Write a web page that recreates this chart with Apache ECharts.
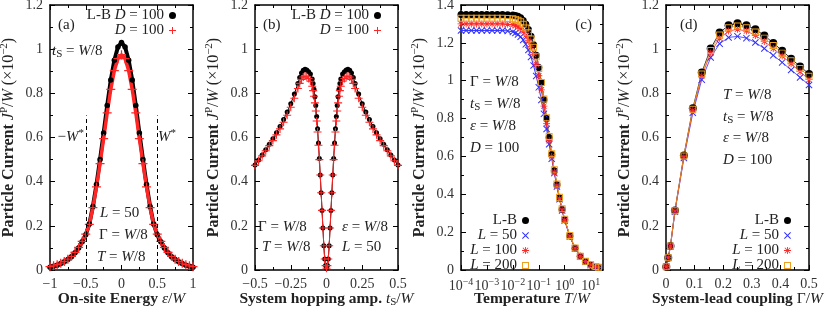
<!DOCTYPE html>
<html><head><meta charset="utf-8">
<script src="https://cdn.jsdelivr.net/npm/echarts@6/dist/echarts.min.js"></script>
<style>html,body{margin:0;padding:0;background:#fff}#c{width:830px;height:312px}</style>
</head><body><div id="c"></div>
<script>
// ---------------- DATA ----------------
// (a) on-site energy scan
const epsA = [-1,-0.95,-0.9,-0.85,-0.8,-0.75,-0.7,-0.65,-0.6,-0.55,-0.5,-0.45,-0.4,-0.35,-0.3,-0.25,-0.2,-0.15,-0.1,-0.05,0,0.05,0.1,0.15,0.2,0.25,0.3,0.35,0.4,0.45,0.5,0.55,0.6,0.65,0.7,0.75,0.8,0.85,0.9,0.95,1];
const jA_LB = [0.013,0.017,0.022,0.029,0.037,0.047,0.060,0.078,0.100,0.128,0.160,0.208,0.288,0.387,0.500,0.620,0.745,0.860,0.950,1.010,1.030,1.010,0.950,0.860,0.745,0.620,0.500,0.387,0.288,0.208,0.160,0.128,0.100,0.078,0.060,0.047,0.037,0.029,0.022,0.017,0.013];
const jA_D = [0.015,0.019,0.024,0.031,0.039,0.049,0.062,0.080,0.102,0.130,0.162,0.207,0.282,0.376,0.482,0.595,0.712,0.818,0.903,0.957,0.975,0.957,0.903,0.818,0.712,0.595,0.482,0.376,0.282,0.207,0.162,0.130,0.102,0.080,0.062,0.049,0.039,0.031,0.024,0.019,0.015];
const wStarX = [-0.5, 0.5];
const wStarTop = 0.7;
// (b) system hopping scan
const tB = [-0.5,-0.475,-0.45,-0.425,-0.4,-0.375,-0.35,-0.325,-0.3,-0.275,-0.25,-0.225,-0.2,-0.1875,-0.175,-0.1625,-0.15,-0.1375,-0.125,-0.1125,-0.1,-0.09375,-0.0875,-0.08125,-0.075,-0.06875,-0.0625,-0.05625,-0.05,-0.04375,-0.0375,-0.03125,-0.025,-0.01875,-0.0125,-0.00625,0,0.00625,0.0125,0.01875,0.025,0.03125,0.0375,0.04375,0.05,0.05625,0.0625,0.06875,0.075,0.08125,0.0875,0.09375,0.1,0.1125,0.125,0.1375,0.15,0.1625,0.175,0.1875,0.2,0.225,0.25,0.275,0.3,0.325,0.35,0.375,0.4,0.425,0.45,0.475,0.5];
const jB_LB = [0.475,0.498,0.521,0.545,0.569,0.594,0.621,0.65,0.682,0.715,0.753,0.797,0.845,0.872,0.892,0.904,0.909,0.906,0.898,0.888,0.865,0.845,0.818,0.785,0.745,0.695,0.64,0.575,0.505,0.43,0.35,0.27,0.19,0.11,0.05,0.02,
  0.008,0.02,0.05,0.11,0.19,0.27,0.35,0.43,0.505,0.575,0.64,0.695,0.745,0.785,0.818,0.845,0.865,0.888,0.898,0.906,0.909,0.904,0.892,0.872,0.845,0.797,0.753,0.715,0.682,0.65,0.621,0.594,0.569,0.545,0.521,0.498,0.475];
const jB_D = [0.474,0.495,0.517,0.54,0.563,0.586,0.612,0.639,0.669,0.701,0.737,0.778,0.822,0.845,0.863,0.874,0.878,0.875,0.867,0.855,0.832,0.812,0.787,0.757,0.72,0.675,0.625,0.565,0.5,0.43,0.35,0.27,0.19,0.11,0.05,0.02,
  0.008,0.02,0.05,0.11,0.19,0.27,0.35,0.43,0.5,0.565,0.625,0.675,0.72,0.757,0.787,0.812,0.832,0.855,0.867,0.875,0.878,0.874,0.863,0.845,0.822,0.778,0.737,0.701,0.669,0.639,0.612,0.586,0.563,0.54,0.517,0.495,0.474];
// (c) temperature scan
const tempC = [0.0001,0.000158,0.000251,0.000398,0.000631,0.001,0.00158,0.00251,0.00398,0.00631,0.01,0.0126,0.0158,0.02,0.0251,0.0316,0.0398,0.0501,0.0631,0.0794,0.1,0.126,0.158,0.2,0.251,0.316,0.398,0.501,0.631,0.794,1,1.58,2.51,3.98,6.31,10,15.8,20];
const jC_LB = [1.35,1.35,1.35,1.35,1.35,1.35,1.35,1.35,1.35,1.349,1.347,1.345,1.340,1.332,1.318,1.298,1.270,1.235,1.190,1.135,1.070,0.990,0.900,0.800,0.700,0.610,0.525,0.450,0.380,0.320,0.265,0.180,0.115,0.072,0.045,0.027,0.017,0.013];
const jC_L50 = [1.265,1.265,1.265,1.265,1.265,1.265,1.265,1.265,1.265,1.263,1.258,1.252,1.244,1.232,1.215,1.192,1.162,1.125,1.080,1.025,0.965,0.898,0.825,0.745,0.664,0.588,0.512,0.441,0.374,0.315,0.261,0.177,0.113,0.071,0.044,0.027,0.017,0.013];
const jC_L100 = [1.30,1.30,1.30,1.30,1.30,1.30,1.30,1.30,1.30,1.298,1.295,1.291,1.285,1.275,1.261,1.241,1.214,1.180,1.138,1.087,1.026,0.952,0.866,0.775,0.683,0.599,0.518,0.446,0.377,0.318,0.263,0.179,0.114,0.072,0.045,0.027,0.017,0.013];
const jC_L200 = [1.33,1.33,1.33,1.33,1.33,1.33,1.33,1.33,1.33,1.329,1.327,1.324,1.319,1.311,1.298,1.279,1.253,1.220,1.177,1.126,1.064,0.990,0.903,0.805,0.705,0.614,0.529,0.454,0.384,0.324,0.268,0.182,0.116,0.073,0.046,0.028,0.018,0.014];
// (d) system-lead coupling scan
const gamD = [0.001,0.0078,0.0156,0.03125,0.0625,0.09375,0.125,0.15625,0.1875,0.21875,0.25,0.28125,0.3125,0.34375,0.375,0.40625,0.4375,0.46875,0.5];
const jD_LB = [0.015,0.056,0.109,0.269,0.518,0.732,0.894,1.003,1.075,1.108,1.117,1.108,1.09,1.062,1.028,0.993,0.957,0.922,0.888];
const jD_L50 = [0.015,0.055,0.107,0.264,0.507,0.712,0.862,0.962,1.025,1.053,1.058,1.05,1.03,1.003,0.972,0.94,0.906,0.872,0.838];
const jD_L100 = [0.015,0.056,0.108,0.267,0.513,0.722,0.878,0.983,1.05,1.082,1.09,1.082,1.062,1.035,1.003,0.969,0.934,0.898,0.862];
const jD_L200 = [0.015,0.056,0.109,0.268,0.516,0.728,0.887,0.994,1.064,1.097,1.105,1.097,1.078,1.05,1.017,0.982,0.947,0.912,0.877];
// axis ranges [min, max, interval]
const xRange = [[-1,1,0.5],[-0.5,0.5,0.25],[0.0001,30,null],[0,0.5,0.1]];
const yRange = [[0,1.2,0.2],[0,1.2,0.2],[0,1.4,0.2],[0,1.2,0.2]];

// ---------------- STYLE ----------------
const FONT = '"Liberation Serif","Times New Roman",serif';
const TXT = '#222';
function mkRich(fs, lh) {
  const base = {fontFamily: FONT, fontSize: fs, color: TXT, fill: TXT, lineHeight: lh};
  const small = Math.round(fs * 0.7);
  return {
    n: Object.assign({}, base),
    i: Object.assign({}, base, {fontStyle: 'italic'}),
    b: Object.assign({}, base, {fontWeight: 'bold'}),
    sub: {fontFamily: FONT, fontSize: small, color: TXT, fill: TXT, lineHeight: 8, verticalAlign: 'bottom'},
    sup: {fontFamily: FONT, fontSize: small, color: TXT, fill: TXT, lineHeight: 8, verticalAlign: 'top'}
  };
}
const RICH = mkRich(15, 18);
const RICHX = mkRich(15.5, 18);
const RICHY = mkRich(16, 19);
const RICHL = mkRich(15, 14);
const BLACK = '#000', BLUE = '#3030ff', RED = '#ff2626', ORANGE = '#eea020';
const PLUS = 'path://M4.3,0H5.7V4.3H10V5.7H5.7V10H4.3V5.7H0V4.3H4.3Z';
const CROSS = 'path://M0,1L1,0L5,4L9,0L10,1L6,5L10,9L9,10L5,6L1,10L0,9L4,5Z';
const STAR = 'path://M4.4,0H5.6V4.4H10V5.6H5.6V10H4.4V5.6H0V4.4H4.4Z M0.8,1.6L1.6,0.8L5,4.2L8.4,0.8L9.2,1.6L5.8,5L9.2,8.4L8.4,9.2L5,5.8L1.6,9.2L0.8,8.4L4.2,5Z';
const SQUARE = 'path://M0,0H10V10H0Z M1.4,1.4V8.6H8.6V1.4Z';

const grids = [
  {left: 50, top: 5, width: 143, height: 265},
  {left: 255, top: 5, width: 143, height: 265},
  {left: 461, top: 5, width: 142, height: 265},
  {left: 666, top: 5, width: 143, height: 265}
].map(g => Object.assign(g, {outerBoundsMode: 'none', containLabel: false}));

const minusFmt = v => String(v).replace('-', '\u2212');
const logFmt = v => {
  const e = Math.log10(v), r = Math.round(e);
  if (Math.abs(e - r) > 0.01) return '';
  return '{m|10}{s|' + (r < 0 ? '\u2212' + (-r) : r) + '}';
};
const logRich = {
  m: {fontFamily: FONT, fontSize: 14, color: '#333', lineHeight: 18},
  s: {fontFamily: FONT, fontSize: 10, color: '#333', lineHeight: 8, verticalAlign: 'top'}
};
const xNames = [
  '{b|On-site Energy }{i|\u03b5}{n|/}{i|W}',
  '{b|System hopping amp. }{i|t}{sub|S}{n|/}{i|W}',
  '{b|Temperature }{i|T}{n|/}{i|W}',
  '{b|System-lead coupling }{n|\u0393/}{i|W}'
];
const yName = '{b|Particle Current }{i|J}{sup|P}{n|/}{i|W}{n| (\u00d710}{sup|\u22122}{n|)}';

const lineCommon = {show: true, onZero: false, lineStyle: {color: '#000', width: 1.5}};
function tickCfg() { return {show: true, inside: true, length: 5, lineStyle: {color: '#000', width: 1}}; }

const xAxes = [], yAxes = [];
for (let g = 0; g < 4; g++) {
  const [mn, mx, iv] = xRange[g];
  const isLog = g === 2;
  const base = {gridIndex: g, type: isLog ? 'log' : 'value', min: mn, max: mx,
    splitLine: {show: false}, minorSplitLine: {show: false},
    axisLine: lineCommon, axisTick: tickCfg(),
    minorTick: {show: !isLog, splitNumber: 2, length: 3, lineStyle: {color: '#000'}}};
  if (isLog) base.logBase = 10;
  if (iv) base.interval = iv;
  xAxes.push(Object.assign({}, base, {position: 'bottom',
    axisLabel: {show: true, margin: 7, fontFamily: FONT, fontSize: 14, color: '#333',
      formatter: isLog ? logFmt : minusFmt, rich: logRich, showMaxLabel: !isLog},
    name: xNames[g], nameLocation: 'middle', nameGap: 20, nameMoveOverlap: false,
    nameTextStyle: {rich: RICHX}}));
}
for (let g = 0; g < 4; g++) {
  const [mn, mx, iv] = xRange[g];
  const isLog = g === 2;
  const base = {gridIndex: g, type: isLog ? 'log' : 'value', min: mn, max: mx,
    splitLine: {show: false}, minorSplitLine: {show: false},
    axisLine: lineCommon, axisTick: tickCfg(),
    minorTick: {show: !isLog, splitNumber: 2, length: 3, lineStyle: {color: '#000'}},
    position: 'top', axisLabel: {show: false}};
  if (isLog) base.logBase = 10;
  if (iv) base.interval = iv;
  xAxes.push(base);
}
for (let g = 0; g < 4; g++) {
  const [mn, mx, iv] = yRange[g];
  yAxes.push({gridIndex: g, type: 'value', min: mn, max: mx, interval: iv, position: 'left',
    splitLine: {show: false}, axisLine: lineCommon, axisTick: tickCfg(),
    minorTick: {show: true, splitNumber: 2, length: 3, lineStyle: {color: '#000'}},
    axisLabel: {show: true, margin: 7, fontFamily: FONT, fontSize: 14, color: '#333'},
    name: yName, nameLocation: 'middle', nameRotate: 90, nameGap: 32, nameMoveOverlap: false,
    nameTextStyle: {rich: RICHY}});
}
for (let g = 0; g < 4; g++) {
  const [mn, mx, iv] = yRange[g];
  yAxes.push({gridIndex: g, type: 'value', min: mn, max: mx, interval: iv, position: 'right',
    splitLine: {show: false}, axisLine: lineCommon, axisTick: tickCfg(),
    minorTick: {show: true, splitNumber: 2, length: 3, lineStyle: {color: '#000'}},
    axisLabel: {show: false}});
}

const zip = (xs, ys) => xs.map((x, i) => [x, ys[i]]);
function ser(name, g, xs, ys, symbol, size, color, lw, extra) {
  return Object.assign({name, type: 'line', xAxisIndex: g, yAxisIndex: g, data: zip(xs, ys),
    symbol, symbolSize: size, showSymbol: true, showAllSymbol: true,
    itemStyle: {color}, lineStyle: {color, width: lw}, emphasis: {disabled: true},
    animation: false, clip: true}, extra || {});
}
const series = [
  ser('aLB', 0, epsA, jA_LB, 'circle', 5.5, BLACK, 4, {markLine: {
    silent: true, symbol: 'none', label: {show: false}, animation: false,
    lineStyle: {color: '#000', width: 1, type: [4, 3]},
    data: wStarX.map(x => [{coord: [x, 0]}, {coord: [x, wStarTop]}])}}),
  ser('aD', 0, epsA, jA_D, PLUS, 9, RED, 3.5),
  ser('bLB', 1, tB, jB_LB, 'circle', 5, BLACK, 1),
  ser('bD', 1, tB, jB_D, PLUS, 8, RED, 1),
  ser('cLB', 2, tempC, jC_LB, 'circle', 7, BLACK, 1),
  ser('cL50', 2, tempC, jC_L50, CROSS, 7, BLUE, 1),
  ser('cL100', 2, tempC, jC_L100, STAR, 7, RED, 1),
  ser('cL200', 2, tempC, jC_L200, SQUARE, 7, ORANGE, 1),
  ser('dLB', 3, gamD, jD_LB, 'circle', 8, BLACK, 0.8),
  ser('dL50', 3, gamD, jD_L50, CROSS, 7, BLUE, 0.8),
  ser('dL100', 3, gamD, jD_L100, STAR, 7, RED, 0.8),
  ser('dL200', 3, gamD, jD_L200, SQUARE, 7, ORANGE, 0.8)
];

const LEG = {
  aLB: '{n|L-B }{i|D}{n| = 100}', aD: '{i|D}{n| = 100}',
  bLB: '{n|L-B }{i|D}{n| = 100}', bD: '{i|D}{n| = 100}',
  cLB: '{n|L-B}', cL50: '{i|L}{n| = 50}', cL100: '{i|L}{n| = 100}', cL200: '{i|L}{n| = 200}',
  dLB: '{n|L-B}', dL50: '{i|L}{n| = 50}', dL100: '{i|L}{n| = 100}', dL200: '{i|L}{n| = 200}'
};
function leg(names, icons, rightEdge, top) {
  return {orient: 'vertical', align: 'right', right: 830 - rightEdge, top, padding: 0,
    itemWidth: 7, itemHeight: 7, itemGap: 0, selectedMode: false,
    data: names.map((n, i) => ({name: n, icon: icons[i]})),
    formatter: n => LEG[n], textStyle: {fontFamily: FONT, fontSize: 15, color: TXT, rich: RICHL}};
}
const legends = [
  leg(['aLB', 'aD'], ['circle', PLUS], 176, 8),
  leg(['bLB', 'bD'], ['circle', PLUS], 381, 8),
  leg(['cLB', 'cL50', 'cL100', 'cL200'], ['circle', CROSS, STAR, SQUARE], 529, 213),
  leg(['dLB', 'dL50', 'dL100', 'dL200'], ['circle', CROSS, STAR, SQUARE], 791, 213)
];

function T(x, y, s, align) {
  return {type: 'text', x, y, silent: true, z: 100,
    style: {text: s, rich: RICH, align: align || 'left', verticalAlign: 'middle', fill: TXT,
      fontFamily: FONT, fontSize: 15}};
}
const GW8 = '{n|\u0393 = }{i|W}{n|/8}';
const TW8 = '{i|T}{n| = }{i|W}{n|/8}';
const tSW8 = '{i|t}{sub|S}{n| = }{i|W}{n|/8}';
const eW8 = '{i|\u03b5}{n| = }{i|W}{n|/8}';
const D100 = '{i|D}{n| = 100}';
const graphic = [
  T(58, 25, '{n|(a)}'), T(52, 51, tSW8),
  T(84, 137, '{n|\u2212}{i|W}{sup|*}', 'right'), T(158, 137, '{i|W}{sup|*}'),
  T(100, 213, '{i|L}{n| = 50}'), T(99, 235, GW8), T(97, 257, TW8),
  T(263, 25, '{n|(b)}'), T(258, 227, GW8), T(342, 227, eW8), T(262, 247, TW8), T(342, 247, '{i|L}{n| = 50}'),
  T(592, 25, '{n|(c)}', 'right'), T(470, 82, GW8), T(470, 104, tSW8), T(470, 126, eW8), T(470, 148, D100),
  T(680, 25, '{n|(d)}'), T(723, 95, TW8), T(723, 117, tSW8), T(723, 138, eW8), T(723, 160, D100)
];

const chart = echarts.init(document.getElementById('c'), null, {renderer: 'canvas'});
chart.setOption({
  animation: false, backgroundColor: '#fff',
  textStyle: {fontFamily: FONT},
  grid: grids, xAxis: xAxes, yAxis: yAxes, series, legend: legends, graphic
});
</script></body></html>
